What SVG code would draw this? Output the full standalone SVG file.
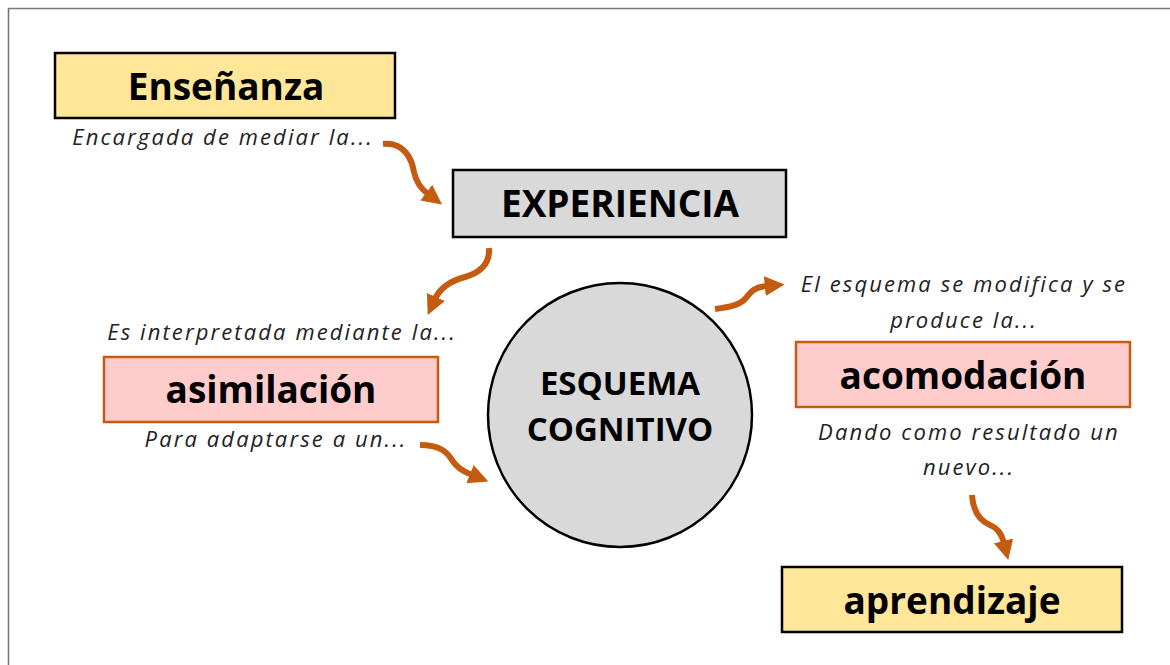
<svg xmlns="http://www.w3.org/2000/svg" width="1170" height="665" viewBox="0 0 1170 665">
<style>
.box{stroke-width:2.5}
.y{fill:#FFE699;stroke:#000}
.g{fill:#D9D9D9;stroke:#000}
.p{fill:#FFCCCC;stroke:#C55A11}
.t{font-family:"Open Sans","Noto Sans",sans-serif;font-weight:bold;font-size:37px;fill:#000;text-anchor:middle}
.c{font-size:33px}
.i{font-family:"Open Sans","Noto Sans",sans-serif;font-style:italic;font-size:22px;letter-spacing:2.1px;fill:#222;text-anchor:middle}
.a{fill:none;stroke:#C55A11;stroke-width:6;marker-end:url(#h)}
</style>
<defs>
<marker id="h" markerUnits="userSpaceOnUse" markerWidth="22" markerHeight="22" refX="2" refY="10" orient="auto" viewBox="0 0 20 20">
<path d="M0,1 L18,10 L0,19 Z" fill="#C55A11"/>
</marker>
</defs>
<rect width="1170" height="665" fill="#fff"/>
<path d="M8.5,665 V8.5 H1170" fill="none" stroke="#777" stroke-width="1.6"/>
<g id="connectors">
<path class="a" d="M383,144 C405,142 412,160 414,172 C416,182 420,188 428,194"/>
<path class="a" d="M489,248 C490,262 482,272 465,277 C450,281 440,288 435,299"/>
<path class="a" d="M420,445 C440,445 447,452 452,460 C456,467 462,471 472,475"/>
<path class="a" d="M715,309 C730,307 740,305 746,298 C752,290 756,287 767,286"/>
<path class="a" d="M972,495 C973,510 978,520 990,525 C998,528 1002,535 1004,543"/>
</g>
<g id="ensenanza">
<rect class="box y" x="55" y="53" width="340" height="65"/>
<text class="t" x="226" y="100">Enseñanza</text>
</g>
<text class="i" x="223" y="145">Encargada de mediar la...</text>
<g id="experiencia">
<rect class="box g" x="453" y="170" width="333" height="67"/>
<text class="t" x="620" y="217">EXPERIENCIA</text>
</g>
<text class="i" x="282" y="340">Es interpretada mediante la...</text>
<g id="asimilacion">
<rect class="box p" x="104" y="357" width="334" height="65"/>
<text class="t" x="271" y="403">asimilación</text>
</g>
<text class="i" x="276" y="447">Para adaptarse a un...</text>
<g id="esquema">
<circle cx="620" cy="415" r="132" fill="#D9D9D9" stroke="#000" stroke-width="2.5"/>
<text class="t c" x="620" y="395">ESQUEMA</text>
<text class="t c" x="620" y="441">COGNITIVO</text>
</g>
<text class="i" x="964" y="292">El esquema se modifica y se</text>
<text class="i" x="964" y="328">produce la...</text>
<g id="acomodacion">
<rect class="box p" x="796" y="342" width="334" height="65"/>
<text class="t" x="963" y="389">acomodación</text>
</g>
<text class="i" x="969" y="440">Dando como resultado un</text>
<text class="i" x="969" y="475">nuevo...</text>
<g id="aprendizaje">
<rect class="box y" x="782" y="567" width="340" height="65"/>
<text class="t" x="952" y="614">aprendizaje</text>
</g>
</svg>
